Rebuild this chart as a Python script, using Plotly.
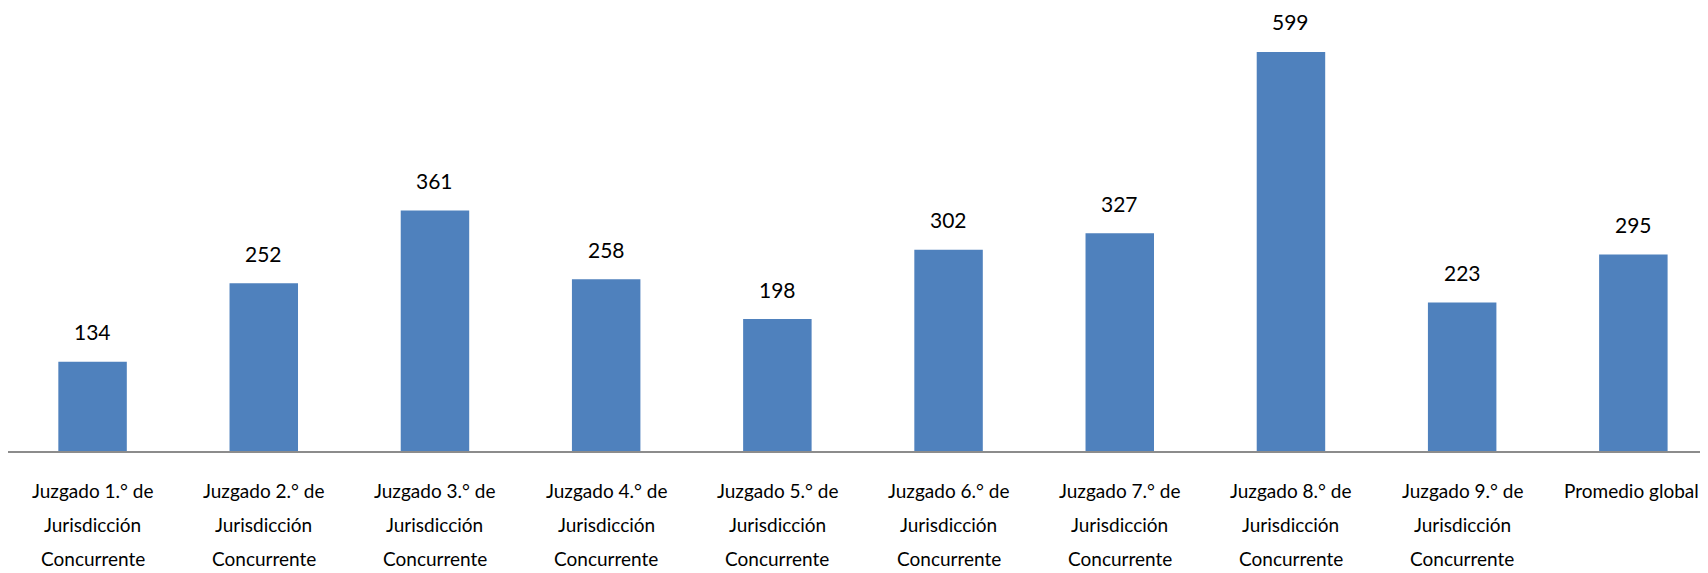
import plotly.graph_objects as go

# datos
juzgados = [
    "Juzgado 1.° de<br>Jurisdicción<br>Concurrente",
    "Juzgado 2.° de<br>Jurisdicción<br>Concurrente",
    "Juzgado 3.° de<br>Jurisdicción<br>Concurrente",
    "Juzgado 4.° de<br>Jurisdicción<br>Concurrente",
    "Juzgado 5.° de<br>Jurisdicción<br>Concurrente",
    "Juzgado 6.° de<br>Jurisdicción<br>Concurrente",
    "Juzgado 7.° de<br>Jurisdicción<br>Concurrente",
    "Juzgado 8.° de<br>Jurisdicción<br>Concurrente",
    "Juzgado 9.° de<br>Jurisdicción<br>Concurrente",
    "Promedio global",
]
valores = [134, 252, 361, 258, 198, 302, 327, 599, 223, 295]

fuente = "Lato, Liberation Sans, sans-serif"
pos = list(range(len(valores)))

fig = go.Figure()
fig.add_trace(go.Bar(
    x=pos,
    y=valores,
    width=0.4,
    marker=dict(color="#4F81BD", line=dict(width=0)),
    hoverinfo="skip",
))

# etiquetas de datos encima de cada barra
for i, v in enumerate(valores):
    fig.add_annotation(x=i, y=v, text=str(v), showarrow=False,
                       xref="x", yref="y", yanchor="middle", yshift=30,
                       font=dict(family=fuente, size=21, color="black"))

# etiquetas del eje x, una linea por anotacion (interlineado como el original)
for i, etiqueta in enumerate(juzgados):
    for k, linea in enumerate(etiqueta.split("<br>")):
        fig.add_annotation(x=i, y=0, text=linea, showarrow=False,
                           xref="x", yref="y", yanchor="middle",
                           yshift=-(39 + 34 * k), xshift=-2 if i == 9 else 0,
                           font=dict(family=fuente, size=19, color="black"))

fig.update_layout(
    width=1700, height=565,
    margin=dict(l=0, r=0, t=0, b=122, pad=0),
    paper_bgcolor="white", plot_bgcolor="white",
    showlegend=False,
)
fig.update_xaxes(
    range=[-0.494, 9.436],
    showline=True, linecolor="#8C8C8C", linewidth=2,
    showgrid=False, ticks="", zeroline=False, showticklabels=False,
)
fig.update_yaxes(range=[0, 665], visible=False, showgrid=False, zeroline=False)

fig.write_html("out.html")
